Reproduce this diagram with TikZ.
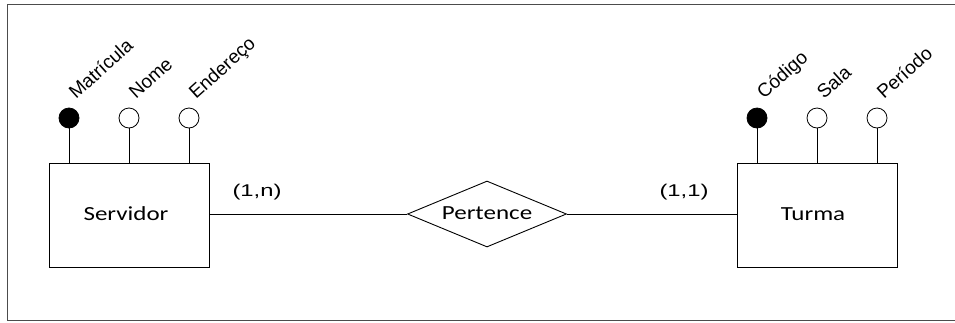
\documentclass[tikz,border=0pt]{standalone}
\usepackage{fontspec}
\setmainfont{Liberation Sans}
\newfontfamily\entfont{Carlito}
\usetikzlibrary{shapes.geometric}

% wide text, as in the reference
\newcommand{\widetxt}[2]{\scalebox{#1}[1]{#2}}

\begin{document}
\begin{tikzpicture}[x=1pt,y=-1pt,
    entity/.style={draw, line width=0.9pt, minimum width=160pt, minimum height=104pt},
    relation/.style={draw, diamond, line width=0.9pt, aspect=2.4, minimum width=159pt, minimum height=66pt, inner sep=0pt},
    enttext/.style={inner sep=0pt, font=\entfont\fontsize{20}{24}\selectfont},
    keydot/.style={circle, draw, fill=black, minimum size=20pt, inner sep=0pt, line width=0.8pt},
    attdot/.style={circle, draw, fill=white, minimum size=20pt, inner sep=0pt, line width=0.8pt},
    attlabel/.style={rotate=42, anchor=base west, inner sep=0pt, font=\fontsize{19}{21}\selectfont},
    card/.style={inner sep=0pt, font=\fontsize{17}{20}\selectfont}]
    \useasboundingbox (0,0) rectangle (955,322);

    % Frame (open on the right)
    \draw[black!70, line width=1pt] (955,4) -- (7,4) -- (7,320) -- (955,320);

    % Entities and relationship
    \node[entity] (servidor) at (129,215) {};
    \node[entity] (turma) at (817,215) {};
    \node[relation] (pertence) at (487,214) {};
    \node[enttext] (servidorlbl) at (126,214) {\widetxt{1.25}{Servidor}};
    \node[enttext] (turmalbl) at (813,214) {\widetxt{1.25}{Turma}};
    \node[enttext] (pertencelbl) at (487,213) {\widetxt{1.25}{Pertence}};

    % Connectors
    \draw[line width=0.9pt] (servidor.east |- pertence.west) -- (pertence.west);
    \draw[line width=0.9pt] (pertence.east) -- (turma.west |- pertence.east);
    \node[card] (cardA) at (257,192) {\widetxt{1.4}{(1,n)}};
    \node[card] (cardB) at (684,192) {\widetxt{1.4}{(1,1)}};

    % Attributes of Servidor
    \foreach \x/\kind/\name/\txt in {69/keydot/mat/Matrícula, 129/attdot/nom/Nome, 189/attdot/end/Endereço}{
        \node[\kind] (\name) at (\x,118) {};
        \draw[line width=0.9pt] (\name.south) -- (\x,163);
        \node[attlabel] (\name lbl) at (\x+7,100) {\txt};
    }

    % Attributes of Turma
    \foreach \x/\kind/\name/\txt in {757/keydot/cod/Código, 817/attdot/sal/Sala, 877/attdot/per/Período}{
        \node[\kind] (\name) at (\x,118) {};
        \draw[line width=0.9pt] (\name.south) -- (\x,163);
        \node[attlabel] (\name lbl) at (\x+7,100) {\txt};
    }
\end{tikzpicture}
\end{document}
